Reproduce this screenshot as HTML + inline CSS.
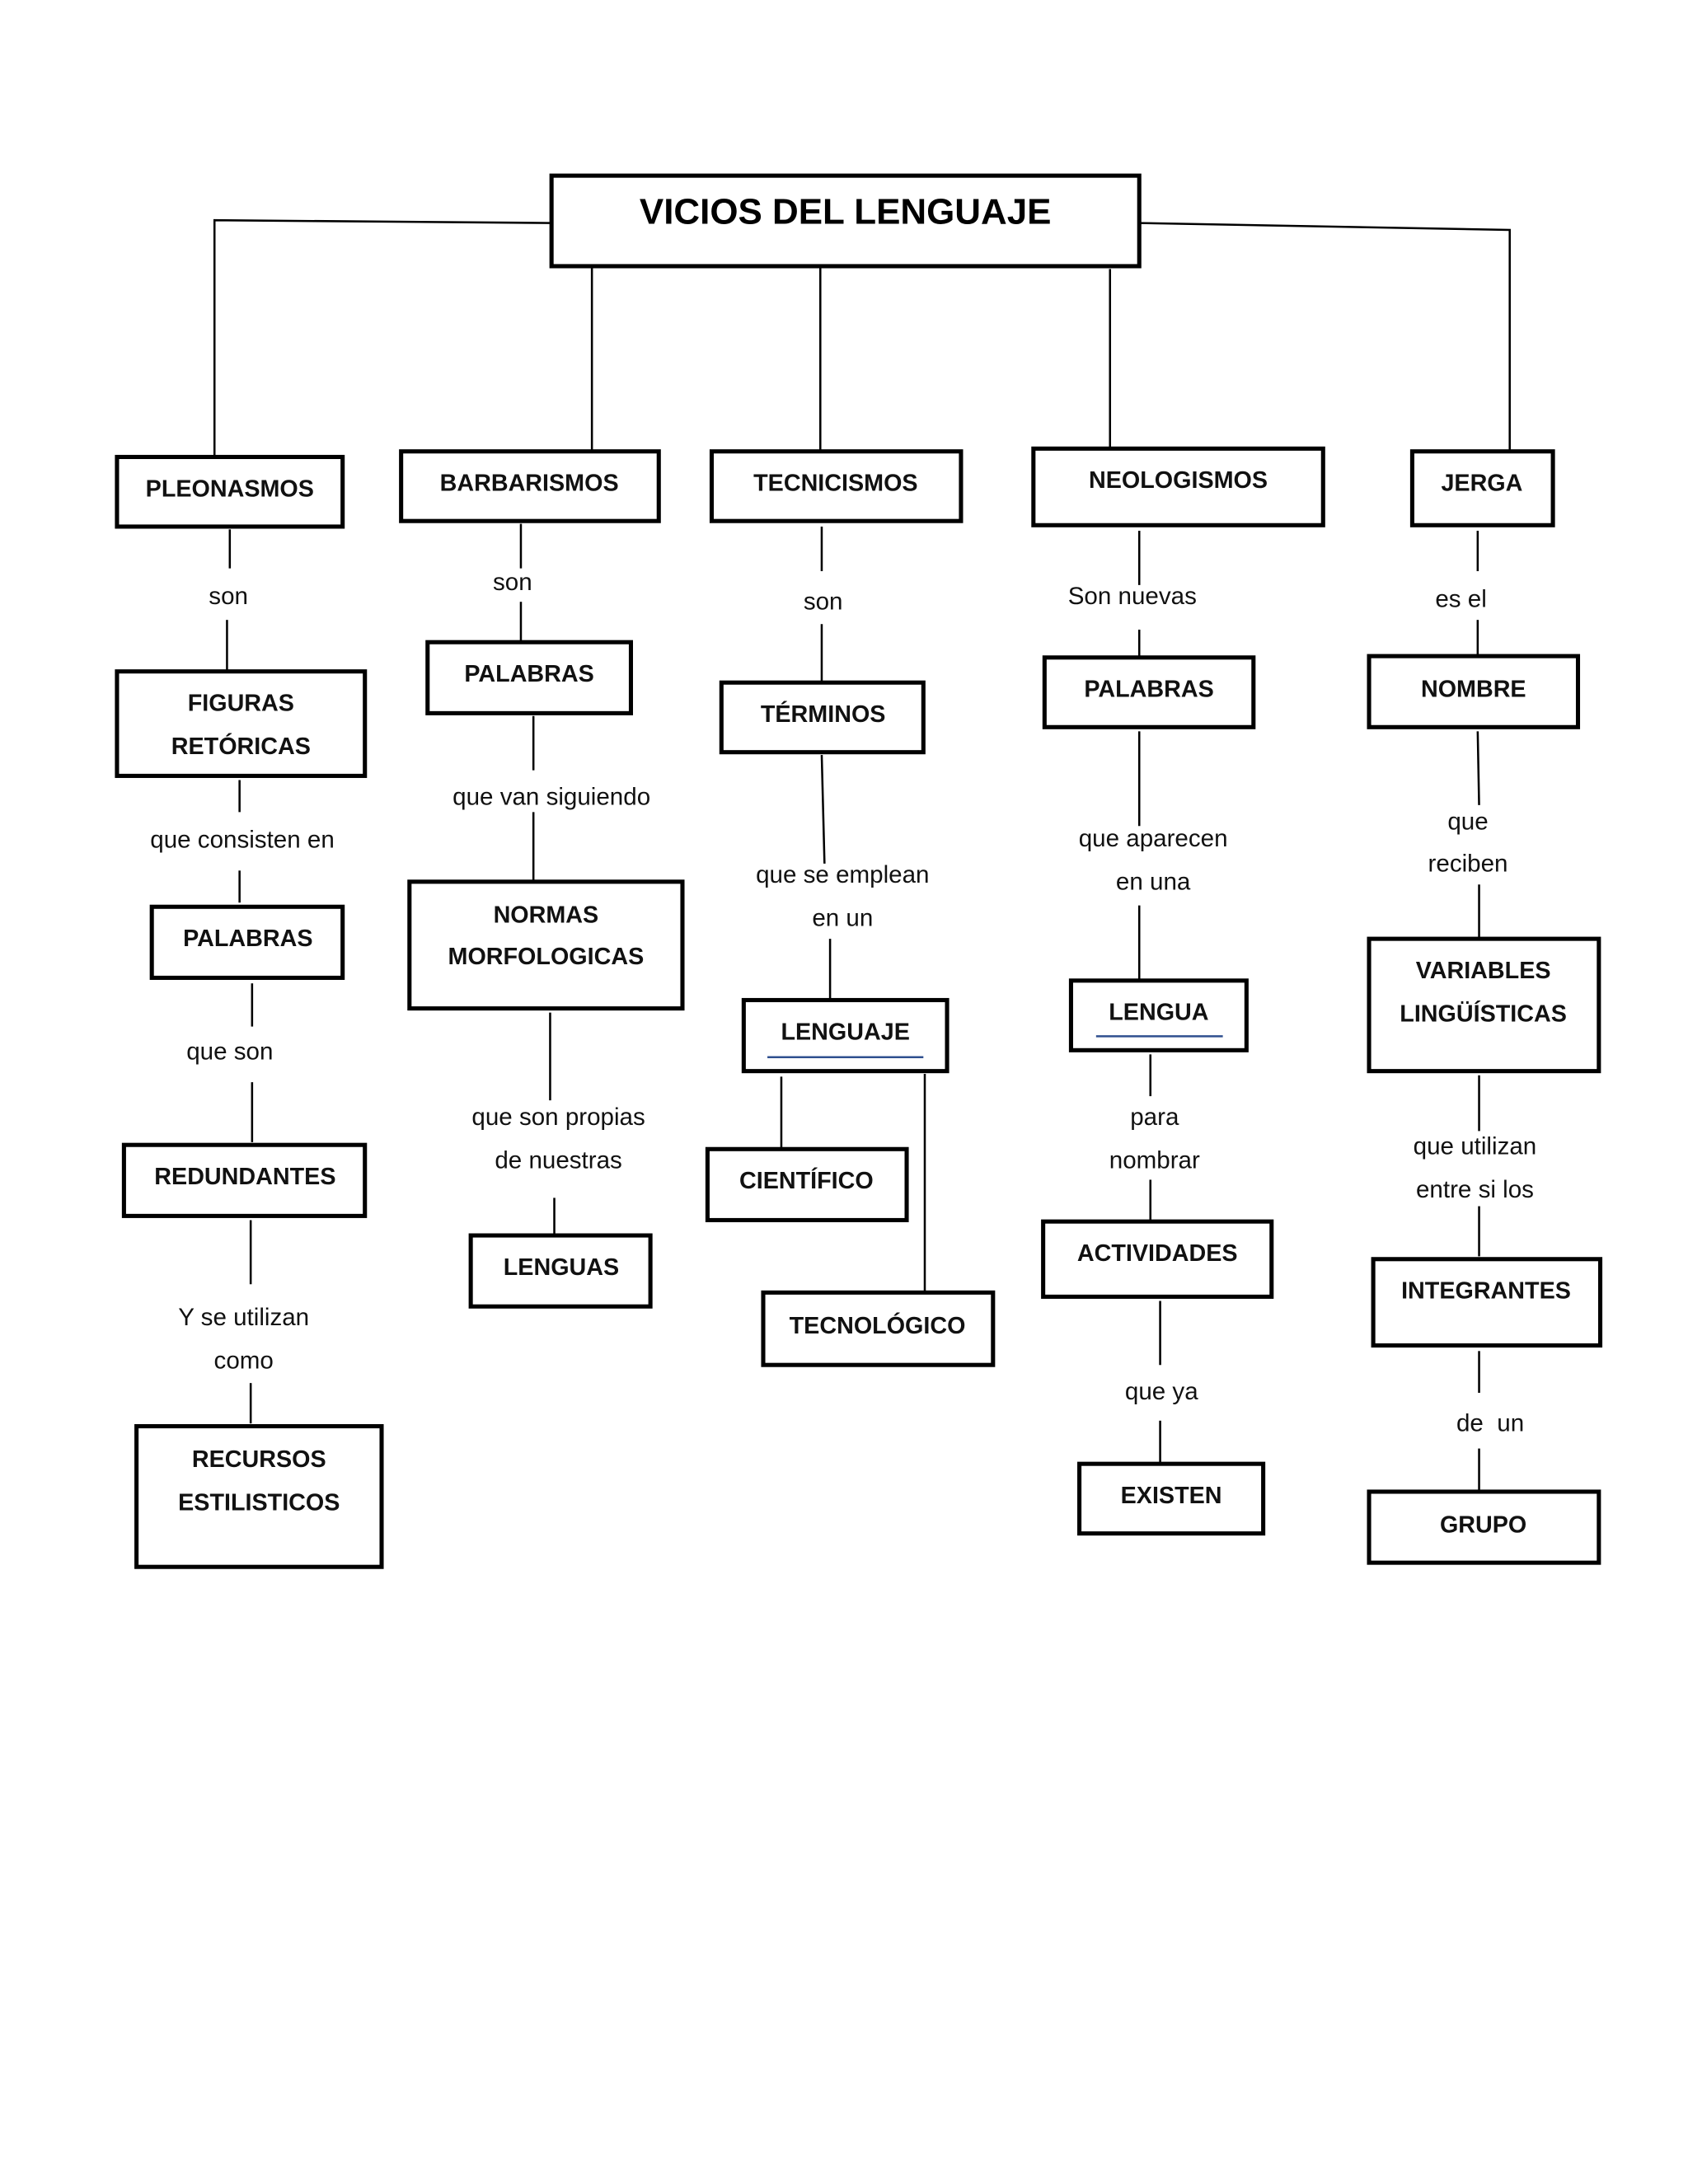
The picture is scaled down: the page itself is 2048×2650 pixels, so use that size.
<!DOCTYPE html>
<html><head><meta charset="utf-8"><style>
html,body{margin:0;padding:0;background:#fff;}
svg{display:block;}
.b{fill:#fff;stroke:#000;stroke-width:3;}
.l{stroke:#000;stroke-width:1.5;fill:none;}
.t{font-family:"Liberation Sans",sans-serif;font-weight:bold;font-size:17px;text-anchor:middle;dominant-baseline:central;fill:#111;}
.n{font-family:"Liberation Sans",sans-serif;font-size:17.5px;text-anchor:middle;dominant-baseline:central;fill:#111;}
.u{stroke:#2f4f8f;stroke-width:1.5;}
</style></head><body>
<svg width="2048" height="2650" viewBox="0 0 1212 1568" xmlns="http://www.w3.org/2000/svg">
<rect width="1212" height="1568" fill="#fff"/>
<!-- top connectors -->
<polyline class="l" points="396,160 154,158 154,328"/>
<polyline class="l" points="818,160 1084,165 1084,324"/>
<line class="l" x1="425" y1="191" x2="425" y2="324"/>
<line class="l" x1="589" y1="191" x2="589" y2="324"/>
<line class="l" x1="797" y1="193" x2="797" y2="322"/>
<rect class="b" x="396" y="126" width="422" height="65"/>
<text x="607" y="152" style="font-family:'Liberation Sans',sans-serif;font-weight:bold;font-size:26px;text-anchor:middle;dominant-baseline:central">VICIOS DEL LENGUAJE</text>

<rect class="b" x="84" y="328" width="162" height="50"/><text class="t" x="165" y="351">PLEONASMOS</text>
<rect class="b" x="288" y="324" width="185" height="50"/><text class="t" x="380" y="347">BARBARISMOS</text>
<rect class="b" x="511" y="324" width="179" height="50"/><text class="t" x="600" y="347">TECNICISMOS</text>
<rect class="b" x="742" y="322" width="208" height="55"/><text class="t" x="846" y="345">NEOLOGISMOS</text>
<rect class="b" x="1014" y="324" width="101" height="53"/><text class="t" x="1064" y="347">JERGA</text>

<!-- column 1 -->
<line class="l" x1="165" y1="380" x2="165" y2="408"/>
<text class="n" x="164" y="428">son</text>
<line class="l" x1="163" y1="445" x2="163" y2="482"/>
<rect class="b" x="84" y="482" width="178" height="75"/>
<text class="t" x="173" y="505">FIGURAS</text><text class="t" x="173" y="536">RETÓRICAS</text>
<line class="l" x1="172" y1="560" x2="172" y2="583"/>
<text class="n" x="174" y="603">que consisten en</text>
<line class="l" x1="172" y1="625" x2="172" y2="648"/>
<rect class="b" x="109" y="651" width="137" height="51"/><text class="t" x="178" y="674">PALABRAS</text>
<line class="l" x1="181" y1="706" x2="181" y2="737"/>
<text class="n" x="165" y="755">que son</text>
<line class="l" x1="181" y1="777" x2="181" y2="820"/>
<rect class="b" x="89" y="822" width="173" height="51"/><text class="t" x="176" y="845">REDUNDANTES</text>
<line class="l" x1="180" y1="876" x2="180" y2="922"/>
<text class="n" x="175" y="946">Y se utilizan</text><text class="n" x="175" y="977">como</text>
<line class="l" x1="180" y1="993" x2="180" y2="1022"/>
<rect class="b" x="98" y="1024" width="176" height="101"/>
<text class="t" x="186" y="1048">RECURSOS</text><text class="t" x="186" y="1079">ESTILISTICOS</text>

<!-- column 2 -->
<line class="l" x1="374" y1="376" x2="374" y2="408"/>
<text class="n" x="368" y="418">son</text>
<line class="l" x1="374" y1="432" x2="374" y2="460"/>
<rect class="b" x="307" y="461" width="146" height="51"/><text class="t" x="380" y="484">PALABRAS</text>
<line class="l" x1="383" y1="514" x2="383" y2="553"/>
<text class="n" x="396" y="572">que van siguiendo</text>
<line class="l" x1="383" y1="583" x2="383" y2="632"/>
<rect class="b" x="294" y="633" width="196" height="91"/>
<text class="t" x="392" y="657">NORMAS</text><text class="t" x="392" y="687">MORFOLOGICAS</text>
<line class="l" x1="395" y1="727" x2="395" y2="790"/>
<text class="n" x="401" y="802">que son propias</text><text class="n" x="401" y="833">de nuestras</text>
<line class="l" x1="398" y1="860" x2="398" y2="886"/>
<rect class="b" x="338" y="887" width="129" height="51"/><text class="t" x="403" y="910">LENGUAS</text>

<!-- column 3 -->
<line class="l" x1="590" y1="378" x2="590" y2="410"/>
<text class="n" x="591" y="432">son</text>
<line class="l" x1="590" y1="448" x2="590" y2="490"/>
<rect class="b" x="518" y="490" width="145" height="50"/><text class="t" x="591" y="513">TÉRMINOS</text>
<line class="l" x1="590" y1="542" x2="592" y2="620"/>
<text class="n" x="605" y="628">que se emplean</text><text class="n" x="605" y="659">en un</text>
<line class="l" x1="596" y1="674" x2="596" y2="718"/>
<rect class="b" x="534" y="718" width="146" height="51"/><text class="t" x="607" y="741">LENGUAJE</text>
<line class="u" x1="551" y1="759" x2="663" y2="759"/>
<line class="l" x1="561" y1="773" x2="561" y2="824"/>
<line class="l" x1="664" y1="771" x2="664" y2="928"/>
<rect class="b" x="508" y="825" width="143" height="51"/><text class="t" x="579" y="848">CIENTÍFICO</text>
<rect class="b" x="548" y="928" width="165" height="52"/><text class="t" x="630" y="952">TECNOLÓGICO</text>

<!-- column 4 -->
<line class="l" x1="818" y1="381" x2="818" y2="420"/>
<text class="n" x="813" y="428">Son nuevas</text>
<line class="l" x1="818" y1="452" x2="818" y2="472"/>
<rect class="b" x="750" y="472" width="150" height="50"/><text class="t" x="825" y="495">PALABRAS</text>
<line class="l" x1="818" y1="525" x2="818" y2="593"/>
<text class="n" x="828" y="602">que aparecen</text><text class="n" x="828" y="633">en una</text>
<line class="l" x1="818" y1="650" x2="818" y2="703"/>
<rect class="b" x="769" y="704" width="126" height="50"/><text class="t" x="832" y="727">LENGUA</text>
<line class="u" x1="787" y1="744" x2="878" y2="744"/>
<line class="l" x1="826" y1="757" x2="826" y2="787"/>
<text class="n" x="829" y="802">para</text><text class="n" x="829" y="833">nombrar</text>
<line class="l" x1="826" y1="847" x2="826" y2="876"/>
<rect class="b" x="749" y="877" width="164" height="54"/><text class="t" x="831" y="900">ACTIVIDADES</text>
<line class="l" x1="833" y1="934" x2="833" y2="980"/>
<text class="n" x="834" y="999">que ya</text>
<line class="l" x1="833" y1="1020" x2="833" y2="1050"/>
<rect class="b" x="775" y="1051" width="132" height="50"/><text class="t" x="841" y="1074">EXISTEN</text>

<!-- column 5 -->
<line class="l" x1="1061" y1="381" x2="1061" y2="410"/>
<text class="n" x="1049" y="430">es el</text>
<line class="l" x1="1061" y1="445" x2="1061" y2="471"/>
<rect class="b" x="983" y="471" width="150" height="51"/><text class="t" x="1058" y="495">NOMBRE</text>
<line class="l" x1="1061" y1="525" x2="1062" y2="578"/>
<text class="n" x="1054" y="590">que</text><text class="n" x="1054" y="620">reciben</text>
<line class="l" x1="1062" y1="635" x2="1062" y2="673"/>
<rect class="b" x="983" y="674" width="165" height="95"/>
<text class="t" x="1065" y="697">VARIABLES</text><text class="t" x="1065" y="728">LINGÜÍSTICAS</text>
<line class="l" x1="1062" y1="772" x2="1062" y2="812"/>
<text class="n" x="1059" y="823">que utilizan</text><text class="n" x="1059" y="854">entre si los</text>
<line class="l" x1="1062" y1="866" x2="1062" y2="902"/>
<rect class="b" x="986" y="904" width="163" height="62"/><text class="t" x="1067" y="927">INTEGRANTES</text>
<line class="l" x1="1062" y1="970" x2="1062" y2="1000"/>
<text class="n" x="1070" y="1022" style="white-space:pre">de  un</text>
<line class="l" x1="1062" y1="1040" x2="1062" y2="1070"/>
<rect class="b" x="983" y="1071" width="165" height="51"/><text class="t" x="1065" y="1095">GRUPO</text>
</svg>
</body></html>
